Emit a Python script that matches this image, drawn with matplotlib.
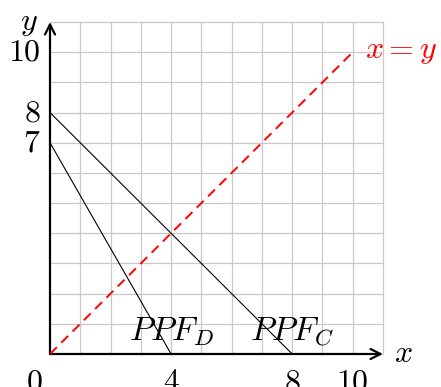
import numpy as np
import matplotlib
matplotlib.use("Agg")
import matplotlib.pyplot as plt

plt.rcParams['mathtext.fontset'] = 'cm'
plt.rcParams['font.family'] = 'serif'
plt.rcParams['font.serif'] = ['DejaVu Serif']

# data
ppf_c_x = [0, 8]
ppf_c_y = [8, 0]
ppf_d_x = [0, 4]
ppf_d_y = [7, 0]
diag_x = [0, 10]
diag_y = [0, 10]
xticks = [4, 8, 10]
yticks = [7, 8, 10]

W, H = 441, 387
fig = plt.figure(figsize=(W / 100, H / 100), dpi=100)
ax = fig.add_axes([50 / W, 33 / H, 333 / W, 332 / H])
ax.set_xlim(0, 11)
ax.set_ylim(0, 11)
for s in ax.spines.values():
    s.set_visible(False)
ax.set_xticks([])
ax.set_yticks([])

# grid
for k in range(1, 12):
    ax.plot([k, k], [0, 11], color='#c8c8c8', lw=0.9, zorder=1, clip_on=False)
    ax.plot([0, 11], [k, k], color='#c8c8c8', lw=0.9, zorder=1, clip_on=False)

# axes arrows
ax.annotate('', xy=(11.0, 0), xytext=(0, 0),
            arrowprops=dict(arrowstyle='->', lw=1.6, color='black', mutation_scale=18,
                            shrinkA=0, shrinkB=0), annotation_clip=False)
ax.annotate('', xy=(0, 11.0), xytext=(0, 0),
            arrowprops=dict(arrowstyle='->', lw=1.6, color='black', mutation_scale=18,
                            shrinkA=0, shrinkB=0), annotation_clip=False)

ax.plot(ppf_c_x, ppf_c_y, color='black', lw=0.8, zorder=3)
ax.plot(ppf_d_x, ppf_d_y, color='black', lw=0.8, zorder=3)
ax.plot(diag_x, diag_y, color='red', lw=1.4, ls=(0, (5, 3.2)), zorder=3)

fs = 23
ax.text(-0.25, -0.4, r'$0$', fontsize=fs, ha='right', va='top')
for t in xticks:
    ax.text(t, -0.4, r'$%d$' % t, fontsize=fs, ha='center', va='top')
for t in yticks:
    ax.text(-0.3, t, r'$%d$' % t, fontsize=fs, ha='right', va='center')

ax.text(11.35, 0, r'$x$', fontsize=fs, ha='left', va='center')
ax.text(-0.4, 11.0, r'$y$', fontsize=fs, ha='right', va='center')
ax.text(10.4, 10.05, r'$x = y$', fontsize=fs, color='red', ha='left', va='center')
ax.text(4.0, 0.46, r'$PPF_D$', fontsize=24, ha='center', va='baseline')
ax.text(8.0, 0.46, r'$PPF_C$', fontsize=24, ha='center', va='baseline')

fig.savefig('out.png', dpi=100)
